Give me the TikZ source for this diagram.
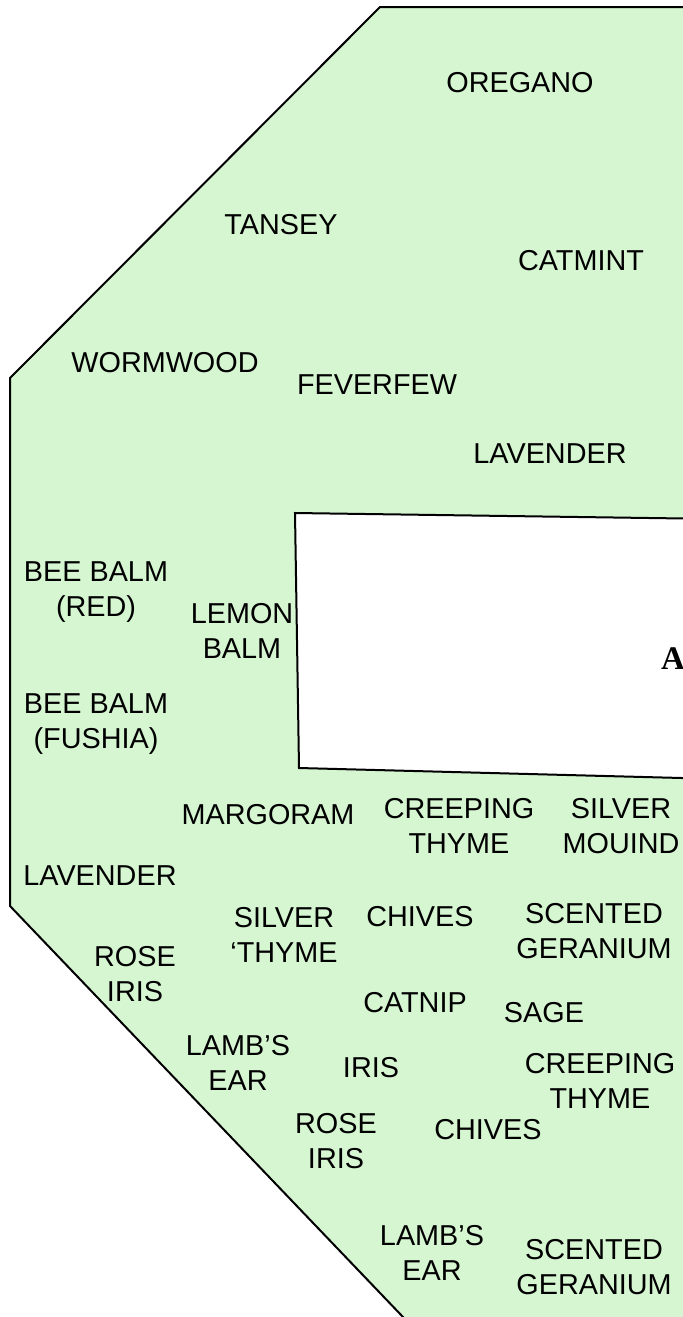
\documentclass[tikz,border=0pt]{standalone}
\usepackage{fontspec}
\setmainfont{Liberation Sans}
\newfontfamily\housefont{Liberation Serif}
\definecolor{bedgreen}{RGB}{214,246,210}

\begin{document}
\begin{tikzpicture}[x=0.5pt,y=-0.5pt,
plant/.style={align=center,inner sep=0pt,font=\fontsize{14.4}{17.5}\selectfont},
bed/.style={draw=black,line width=1pt,line join=miter}]
\useasboundingbox (0,0) rectangle (683,1317);
\clip (0,0) rectangle (683,1317);
\draw[bed,fill=bedgreen] (380,7) -- (720,7) -- (720,1340) -- (425,1340) -- (10,906) -- (10,378) -- cycle;
\draw[bed,fill=white] (295,513) -- (720,519) -- (720,779) -- (299,768) -- cycle;
\node[font=\housefont\bfseries\fontsize{16.5}{18}\selectfont,inner sep=0pt] (house) at (673,659) {A};
\node[plant] (oregano) at (520,83) {OREGANO};
\node[plant] (tansey) at (281,225) {TANSEY};
\node[plant] (catmint) at (581,261) {CATMINT};
\node[plant] (wormwood) at (165,363) {WORMWOOD};
\node[plant] (feverfew) at (377,385) {FEVERFEW};
\node[plant] (lavenderA) at (550,454) {LAVENDER};
\node[plant] (beebalmred) at (96,592) {BEE BALM\\(RED)};
\node[plant] (lemonbalm) at (242,631) {LEMON\\BALM};
\node[plant] (beebalmfushia) at (96,724) {BEE BALM\\(FUSHIA)};
\node[plant] (margoram) at (268,815) {MARGORAM};
\node[plant] (creepingthymeA) at (459,826) {CREEPING\\THYME};
\node[plant] (silvermound) at (621,826) {SILVER\\MOUIND};
\node[plant] (lavenderB) at (100,876) {LAVENDER};
\node[plant] (silverthyme) at (284,935) {SILVER\\‘THYME};
\node[plant] (chivesA) at (420,917) {CHIVES};
\node[plant] (scentedgeraniumA) at (594,931) {SCENTED\\GERANIUM};
\node[plant] (roseirisA) at (135,974) {ROSE\\IRIS};
\node[plant] (catnip) at (415,1003) {CATNIP};
\node[plant] (sage) at (544,1013) {SAGE};
\node[plant] (lambsearA) at (238,1063) {LAMB’S\\EAR};
\node[plant] (iris) at (371,1068) {IRIS};
\node[plant] (creepingthymeB) at (600,1081) {CREEPING\\THYME};
\node[plant] (roseirisB) at (336,1141) {ROSE\\IRIS};
\node[plant] (chivesB) at (488,1130) {CHIVES};
\node[plant] (lambsearB) at (432,1253) {LAMB’S\\EAR};
\node[plant] (scentedgeraniumB) at (594,1267) {SCENTED\\GERANIUM};
\end{tikzpicture}
\end{document}
